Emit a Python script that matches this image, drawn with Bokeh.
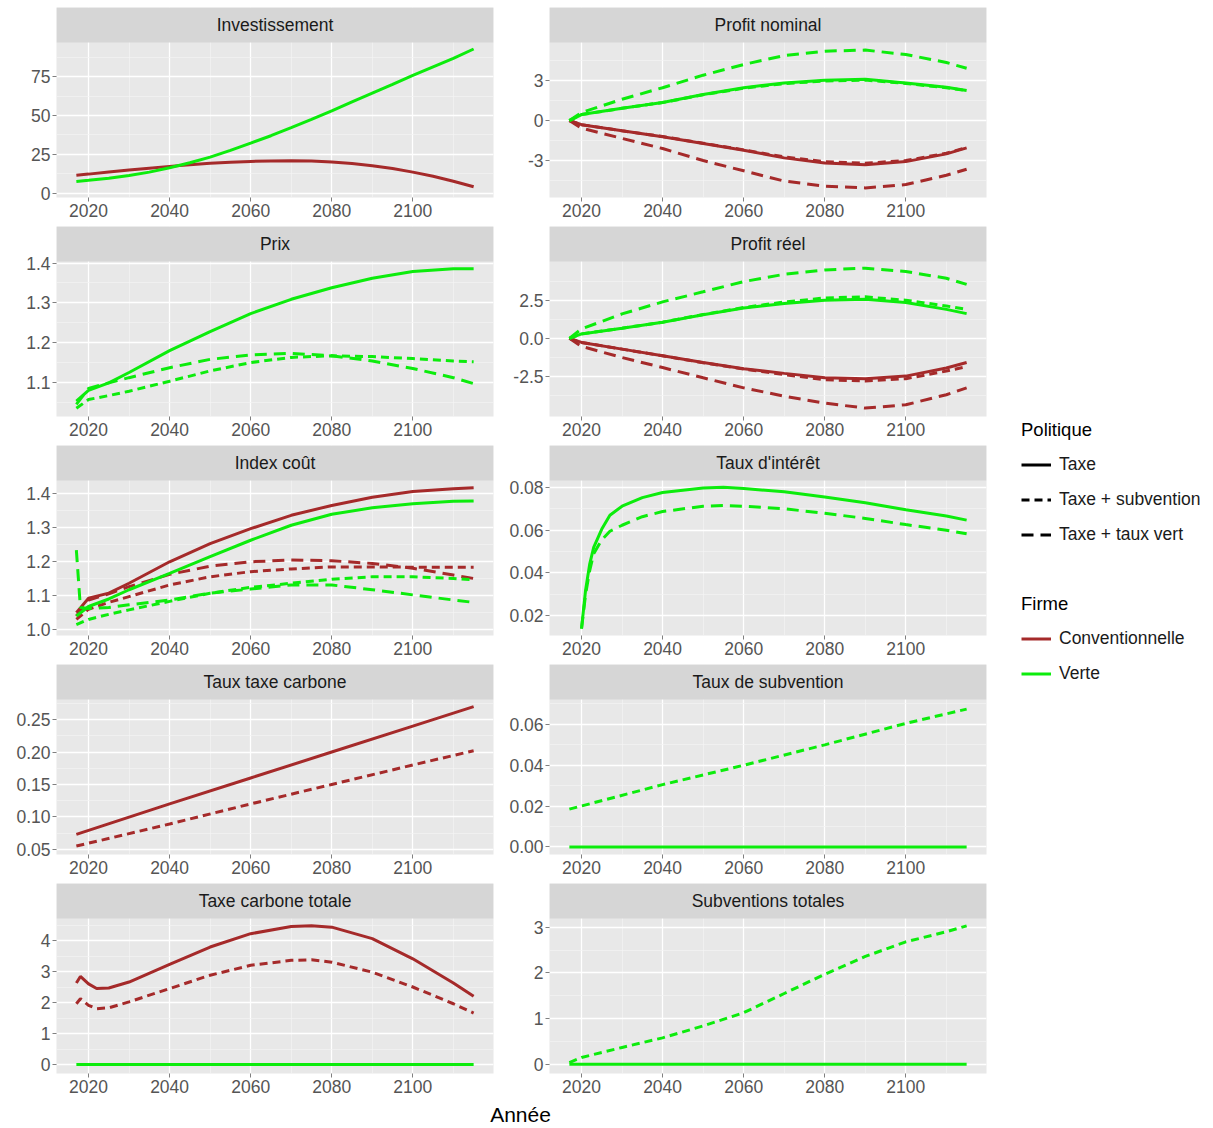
from bokeh.plotting import figure
from bokeh.models import Range1d, FixedTicker, BoxAnnotation, Label, Legend, LegendItem
from bokeh.layouts import column, row
from bokeh.embed import file_html
from bokeh.resources import INLINE

# ---------------- data ----------------
FIRMS = ["Conventionnelle", "Verte"]
POLICIES = ["Taxe", "Taxe + subvention", "Taxe + taux vert"]

X_TICKS = [2020, 2040, 2060, 2080, 2100]
X_MINOR = [2030, 2050, 2070, 2090, 2110]

YEARS5 = [2017, 2020, 2025, 2030, 2035, 2040, 2045, 2050, 2055, 2060, 2065,
          2070, 2075, 2080, 2085, 2090, 2095, 2100, 2105, 2110, 2115]
YEARS10 = [2017, 2020, 2030, 2040, 2050, 2060, 2070, 2080, 2090, 2100, 2110, 2115]
YEARS_P = [2017, 2020, 2025, 2030, 2040, 2050, 2060, 2070, 2080, 2090, 2100, 2110, 2115]
YEARS_SPIKE = [2017, 2018, 2020, 2025, 2030, 2040, 2050, 2060, 2070, 2080, 2090, 2100, 2110, 2115]
YEARS_I = [2020, 2021, 2022, 2023, 2025, 2027, 2030, 2035, 2040, 2050, 2055, 2060,
           2070, 2080, 2090, 2100, 2110, 2115]
YEARS_T = [2017, 2040, 2060, 2080, 2100, 2115]
YEARS_C = [2017, 2018, 2020, 2022, 2025, 2030, 2040, 2050, 2060, 2070, 2075, 2080,
           2090, 2100, 2110, 2115]

# Investissement
inv_conv_taxe = [11.5, 12.2, 13.5, 14.8, 16.0, 17.2, 18.3, 19.2, 19.9, 20.4, 20.7,
                 20.8, 20.6, 20.0, 19.0, 17.6, 15.8, 13.5, 10.8, 7.6, 4.0]
inv_verte_taxe = [7.5, 8.2, 9.5, 11.3, 13.5, 16.3, 19.5, 23.2, 27.5, 32.2, 37.0,
                  42.2, 47.5, 53.0, 58.8, 64.5, 70.2, 76.0, 81.5, 87.0, 93.0]
inv_ticks = [0, 25, 50, 75]
inv_labels = ["0", "25", "50", "75"]

# Profit nominal
pn_conv_taxe = [0, -0.31, -0.77, -1.21, -1.72, -2.23, -2.8, -3.18, -3.31, -3.08, -2.5, -2.05]
pn_conv_sub = [0, -0.31, -0.77, -1.2, -1.7, -2.2, -2.73, -3.08, -3.2, -3.0, -2.45, -2.02]
pn_conv_vert = [0, -0.57, -1.34, -2.1, -3.0, -3.77, -4.54, -4.92, -5.05, -4.8, -4.1, -3.65]
pn_verte_taxe = [0, 0.45, 0.92, 1.35, 1.95, 2.46, 2.82, 3.02, 3.1, 2.82, 2.5, 2.25]
pn_verte_sub = [0, 0.45, 0.92, 1.35, 1.93, 2.42, 2.77, 2.96, 3.03, 2.78, 2.46, 2.24]
pn_verte_vert = [0, 0.6, 1.6, 2.46, 3.4, 4.2, 4.87, 5.2, 5.28, 4.95, 4.35, 3.92]
pn_ticks = [-3, 0, 3]
pn_labels = ["-3", "0", "3"]

# Prix
px_verte_taxe = [1.053, 1.08, 1.099, 1.125, 1.18, 1.228, 1.273, 1.309, 1.338, 1.362, 1.379, 1.386, 1.386]
px_verte_sub = [1.035, 1.057, 1.067, 1.078, 1.103, 1.129, 1.15, 1.163, 1.167, 1.165, 1.16, 1.154, 1.152]
px_verte_vert = [1.045, 1.085, 1.099, 1.112, 1.137, 1.158, 1.169, 1.173, 1.167, 1.154, 1.135, 1.112, 1.097]
px_ticks = [1.1, 1.2, 1.3, 1.4]
px_labels = ["1.1", "1.2", "1.3", "1.4"]

# Profit réel
pr_conv_taxe = [0, -0.27, -0.71, -1.15, -1.59, -1.99, -2.3, -2.59, -2.65, -2.48, -1.95, -1.59]
pr_conv_sub = [0, -0.27, -0.71, -1.15, -1.6, -2.02, -2.38, -2.72, -2.8, -2.65, -2.15, -1.86]
pr_conv_vert = [0, -0.53, -1.26, -1.92, -2.59, -3.25, -3.8, -4.25, -4.58, -4.36, -3.7, -3.25]
pr_verte_taxe = [0, 0.29, 0.66, 1.06, 1.55, 1.99, 2.28, 2.5, 2.57, 2.35, 1.9, 1.62]
pr_verte_sub = [0, 0.29, 0.66, 1.06, 1.56, 2.02, 2.38, 2.65, 2.72, 2.5, 2.12, 1.9]
pr_verte_vert = [0, 0.62, 1.6, 2.39, 3.05, 3.72, 4.2, 4.49, 4.6, 4.38, 3.94, 3.54]
pr_ticks = [-2.5, 0, 2.5]
pr_labels = ["-2.5", "0.0", "2.5"]

# Index coût
ic_conv_taxe = [1.05, 1.092, 1.107, 1.136, 1.199, 1.252, 1.296, 1.335, 1.364, 1.388, 1.405, 1.413, 1.416]
ic_conv_sub = [1.03, 1.06, 1.08, 1.097, 1.131, 1.155, 1.17, 1.178, 1.184, 1.184, 1.183, 1.183, 1.183]
ic_conv_vert = [1.04, 1.087, 1.105, 1.126, 1.162, 1.186, 1.199, 1.204, 1.202, 1.194, 1.18, 1.16, 1.15]
ic_verte_taxe = [1.04, 1.068, 1.09, 1.117, 1.165, 1.214, 1.262, 1.306, 1.338, 1.357, 1.369, 1.376, 1.377]
ic_verte_sub = [1.015, 1.03, 1.045, 1.058, 1.083, 1.107, 1.124, 1.136, 1.148, 1.155, 1.155, 1.15, 1.146]
ic_verte_vert = [1.233, 1.065, 1.062, 1.065, 1.073, 1.087, 1.107, 1.119, 1.131, 1.131, 1.117, 1.102, 1.087, 1.08]
ic_ticks = [1.0, 1.1, 1.2, 1.3, 1.4]
ic_labels = ["1.0", "1.1", "1.2", "1.3", "1.4"]

# Taux d'intérêt
ti_verte_taxe = [0.014, 0.032, 0.044, 0.052, 0.0605, 0.067, 0.0712, 0.0752, 0.0776, 0.0797,
                 0.08, 0.0795, 0.0779, 0.0755, 0.0728, 0.0695, 0.0666, 0.0647]
ti_verte_vert = [0.014, 0.03, 0.041, 0.049, 0.0555, 0.0595, 0.0623, 0.0663, 0.0687, 0.0712,
                 0.0715, 0.0712, 0.07, 0.0679, 0.0655, 0.0626, 0.06, 0.0583]
ti_ticks = [0.02, 0.04, 0.06, 0.08]
ti_labels = ["0.02", "0.04", "0.06", "0.08"]

# Taux taxe carbone
tt_conv_taxe = [0.073, 0.12, 0.16, 0.20, 0.24, 0.27]
tt_conv_sub = [0.055, 0.089, 0.12, 0.15, 0.18, 0.202]
tt_ticks = [0.05, 0.10, 0.15, 0.20, 0.25]
tt_labels = ["0.05", "0.10", "0.15", "0.20", "0.25"]

# Taux de subvention
ts_verte_taxe = [0, 0, 0, 0, 0, 0]
ts_verte_sub = [0.0185, 0.0305, 0.04, 0.05, 0.0605, 0.0675]
ts_ticks = [0.0, 0.02, 0.04, 0.06]
ts_labels = ["0.00", "0.02", "0.04", "0.06"]

# Taxe carbone totale
tc_conv_taxe = [2.63, 2.84, 2.6, 2.45, 2.47, 2.66, 3.23, 3.79, 4.22, 4.45, 4.48, 4.43, 4.06, 3.41, 2.63, 2.2]
tc_conv_sub = [1.96, 2.12, 1.91, 1.8, 1.83, 2.02, 2.45, 2.88, 3.2, 3.36, 3.38, 3.3, 2.98, 2.5, 1.96, 1.66]
tc_verte_taxe = [0] * 16
tc_ticks = [0, 1, 2, 3, 4]
tc_labels = ["0", "1", "2", "3", "4"]

# Subventions totales
st_verte_taxe = [0] * 12
st_verte_sub = [0.04, 0.15, 0.37, 0.58, 0.84, 1.13, 1.55, 1.97, 2.36, 2.68, 2.9, 3.03]
st_ticks = [0, 1, 2, 3]
st_labels = ["0", "1", "2", "3"]

# ---------------- style ----------------
COLORS = {"Conventionnelle": "#A52A2A", "Verte": "#0CEC0C"}
DASHES = {"Taxe": "solid", "Taxe + subvention": "8 5", "Taxe + taux vert": "12 7"}
FONT = "Liberation Sans"
PANEL_BG = "#E8E8E8"
STRIP_BG = "#D6D6D6"
STRIP_H = 35
PLOT_H = 155
BOTTOM = 29
TOP_FIRST = 7
X0, X1 = 2012.1, 2119.9


def panel(title, yrange, yticks, ylabels, series, left, first):
    y0, y1 = yrange
    strip = (y1 - y0) * STRIP_H / PLOT_H
    top = TOP_FIRST if first else 0
    bl = 56 if left else 48
    p = figure(width=bl + 437 + 8, height=top + STRIP_H + PLOT_H + BOTTOM,
               x_range=Range1d(X0, X1), y_range=Range1d(y0, y1 + strip),
               output_backend="svg", toolbar_location=None,
               min_border_left=bl, min_border_right=8, min_border_top=top,
               min_border_bottom=BOTTOM)
    p.outline_line_color = None
    p.background_fill_color = PANEL_BG
    p.border_fill_color = "white"

    step = yticks[1] - yticks[0]
    minors = [t + step / 2 for t in [yticks[0] - step] + yticks]
    minors = [m for m in minors if y0 < m < y1]
    yt = FixedTicker(ticks=yticks, minor_ticks=minors)
    xt = FixedTicker(ticks=X_TICKS, minor_ticks=X_MINOR)
    p.yaxis.ticker = yt
    p.ygrid.ticker = yt
    p.xaxis.ticker = xt
    p.xgrid.ticker = xt
    p.yaxis.major_label_overrides = {t: l for t, l in zip(yticks, ylabels)}
    for ax in (p.xaxis, p.yaxis):
        ax.axis_line_color = None
        ax.major_tick_line_color = "#7F7F7F"
        ax.major_tick_out = 4
        ax.major_tick_in = 0
        ax.minor_tick_line_color = None
        ax.major_label_text_font = FONT
        ax.major_label_text_font_size = "17.5px"
        ax.major_label_text_color = "#555555"
        ax.major_label_standoff = 2
    for g in (p.xgrid, p.ygrid):
        g.grid_line_color = "white"
        g.grid_line_width = 1.3
        g.minor_grid_line_color = "#F4F4F4"
        g.minor_grid_line_width = 0.7

    for years, vals, firm, pol in series:
        p.line(years, vals, line_color=COLORS[firm], line_width=3,
               line_dash=DASHES[pol])

    p.add_layout(BoxAnnotation(bottom=y1, fill_color=STRIP_BG, fill_alpha=1,
                               line_color=None))
    p.add_layout(Label(x=(X0 + X1) / 2, y=y1 + strip / 2, text=title,
                       text_align="center", text_baseline="middle",
                       text_font=FONT, text_font_size="17.5px",
                       text_color="#1A1A1A"))
    return p


C, V = "Conventionnelle", "Verte"
T, S, TV = POLICIES

p1 = panel("Investissement", (-2.9, 97.2), inv_ticks, inv_labels,
           [(YEARS5, inv_conv_taxe, C, T), (YEARS5, inv_verte_taxe, V, T)], True, True)
p2 = panel("Profit nominal", (-5.77, 5.85), pn_ticks, pn_labels,
           [(YEARS10, pn_conv_taxe, C, T), (YEARS10, pn_conv_sub, C, S),
            (YEARS10, pn_conv_vert, C, TV), (YEARS10, pn_verte_taxe, V, T),
            (YEARS10, pn_verte_sub, V, S), (YEARS10, pn_verte_vert, V, TV)], False, True)
p3 = panel("Prix", (1.0144, 1.404), px_ticks, px_labels,
           [(YEARS_P, px_verte_taxe, V, T), (YEARS_P, px_verte_sub, V, S),
            (YEARS_P, px_verte_vert, V, TV)], True, False)
p4 = panel("Profit réel", (-5.13, 5.04), pr_ticks, pr_labels,
           [(YEARS10, pr_conv_taxe, C, T), (YEARS10, pr_conv_sub, C, S),
            (YEARS10, pr_conv_vert, C, TV), (YEARS10, pr_verte_taxe, V, T),
            (YEARS10, pr_verte_sub, V, S), (YEARS10, pr_verte_vert, V, TV)], False, False)
p5 = panel("Index coût", (0.983, 1.437), ic_ticks, ic_labels,
           [(YEARS_P, ic_conv_taxe, C, T), (YEARS_P, ic_conv_sub, C, S),
            (YEARS_P, ic_conv_vert, C, TV), (YEARS_P, ic_verte_taxe, V, T),
            (YEARS_P, ic_verte_sub, V, S), (YEARS_SPIKE, ic_verte_vert, V, TV)], True, False)
p6 = panel("Taux d'intérêt", (0.0108, 0.0832), ti_ticks, ti_labels,
           [(YEARS_I, ti_verte_taxe, V, T), (YEARS_I, ti_verte_vert, V, TV)], False, False)
p7 = panel("Taux taxe carbone", (0.042, 0.281), tt_ticks, tt_labels,
           [(YEARS_T, tt_conv_taxe, C, T), (YEARS_T, tt_conv_sub, C, S)], True, False)
p8 = panel("Taux de subvention", (-0.0037, 0.0722), ts_ticks, ts_labels,
           [(YEARS_T, ts_verte_sub, V, S), (YEARS_T, ts_verte_taxe, V, T)], False, False)
p9 = panel("Taxe carbone totale", (-0.29, 4.71), tc_ticks, tc_labels,
           [(YEARS_C, tc_conv_taxe, C, T), (YEARS_C, tc_conv_sub, C, S),
            (YEARS_C, tc_verte_taxe, V, T)], True, False)
p10 = panel("Subventions totales", (-0.2, 3.19), st_ticks, st_labels,
            [(YEARS10, st_verte_sub, V, S), (YEARS10, st_verte_taxe, V, T)], False, False)

# x axis title
AW = 994
annee = figure(width=AW, height=25, x_range=Range1d(0, AW),
               y_range=Range1d(0, 25), output_backend="svg", toolbar_location=None,
               x_axis_location=None, y_axis_location=None, min_border=0)
annee.outline_line_color = None
annee.grid.visible = False
annee.add_layout(Label(x=520, y=13, text="Année", text_align="center",
                       text_baseline="middle", text_font=FONT,
                       text_font_size="21px", text_color="black"))

# legend figure
leg = figure(width=206, height=700, x_range=Range1d(0, 1), y_range=Range1d(0, 1),
             output_backend="svg", toolbar_location=None,
             x_axis_location=None, y_axis_location=None, min_border=0)
leg.outline_line_color = None
leg.grid.visible = False
pol_items = []
for pol in POLICIES:
    r = leg.line(x=[-2, -1], y=[-2, -2], line_color="black", line_width=3,
                 line_dash=DASHES[pol])
    pol_items.append(LegendItem(label=pol, renderers=[r]))
firm_items = []
for firm in FIRMS:
    r = leg.line(x=[-2, -1], y=[-2, -2], line_color=COLORS[firm], line_width=3)
    firm_items.append(LegendItem(label=firm, renderers=[r]))


def style_legend(lg):
    lg.title_text_font = FONT
    lg.title_text_font_size = "18.5px"
    lg.title_text_font_style = "normal"
    lg.title_text_color = "black"
    lg.title_standoff = 6
    lg.label_text_font = FONT
    lg.label_text_font_size = "17.5px"
    lg.label_text_color = "#1A1A1A"
    lg.glyph_width = 30
    lg.glyph_height = 35
    lg.label_height = 35
    lg.label_standoff = 8
    lg.spacing = 0
    lg.padding = 0
    lg.margin = 0
    lg.border_line_color = None
    lg.background_fill_alpha = 0


lg1 = Legend(items=pol_items, title="Politique", location=(27, 148))
lg2 = Legend(items=firm_items, title="Firme", location=(27, 9))
style_legend(lg1)
style_legend(lg2)
leg.add_layout(lg1)
leg.add_layout(lg2)

grid = column(row(p1, p2), row(p3, p4), row(p5, p6), row(p7, p8), row(p9, p10), annee)
layout = row(grid, leg)

open("out.html", "w").write(file_html(layout, INLINE))
